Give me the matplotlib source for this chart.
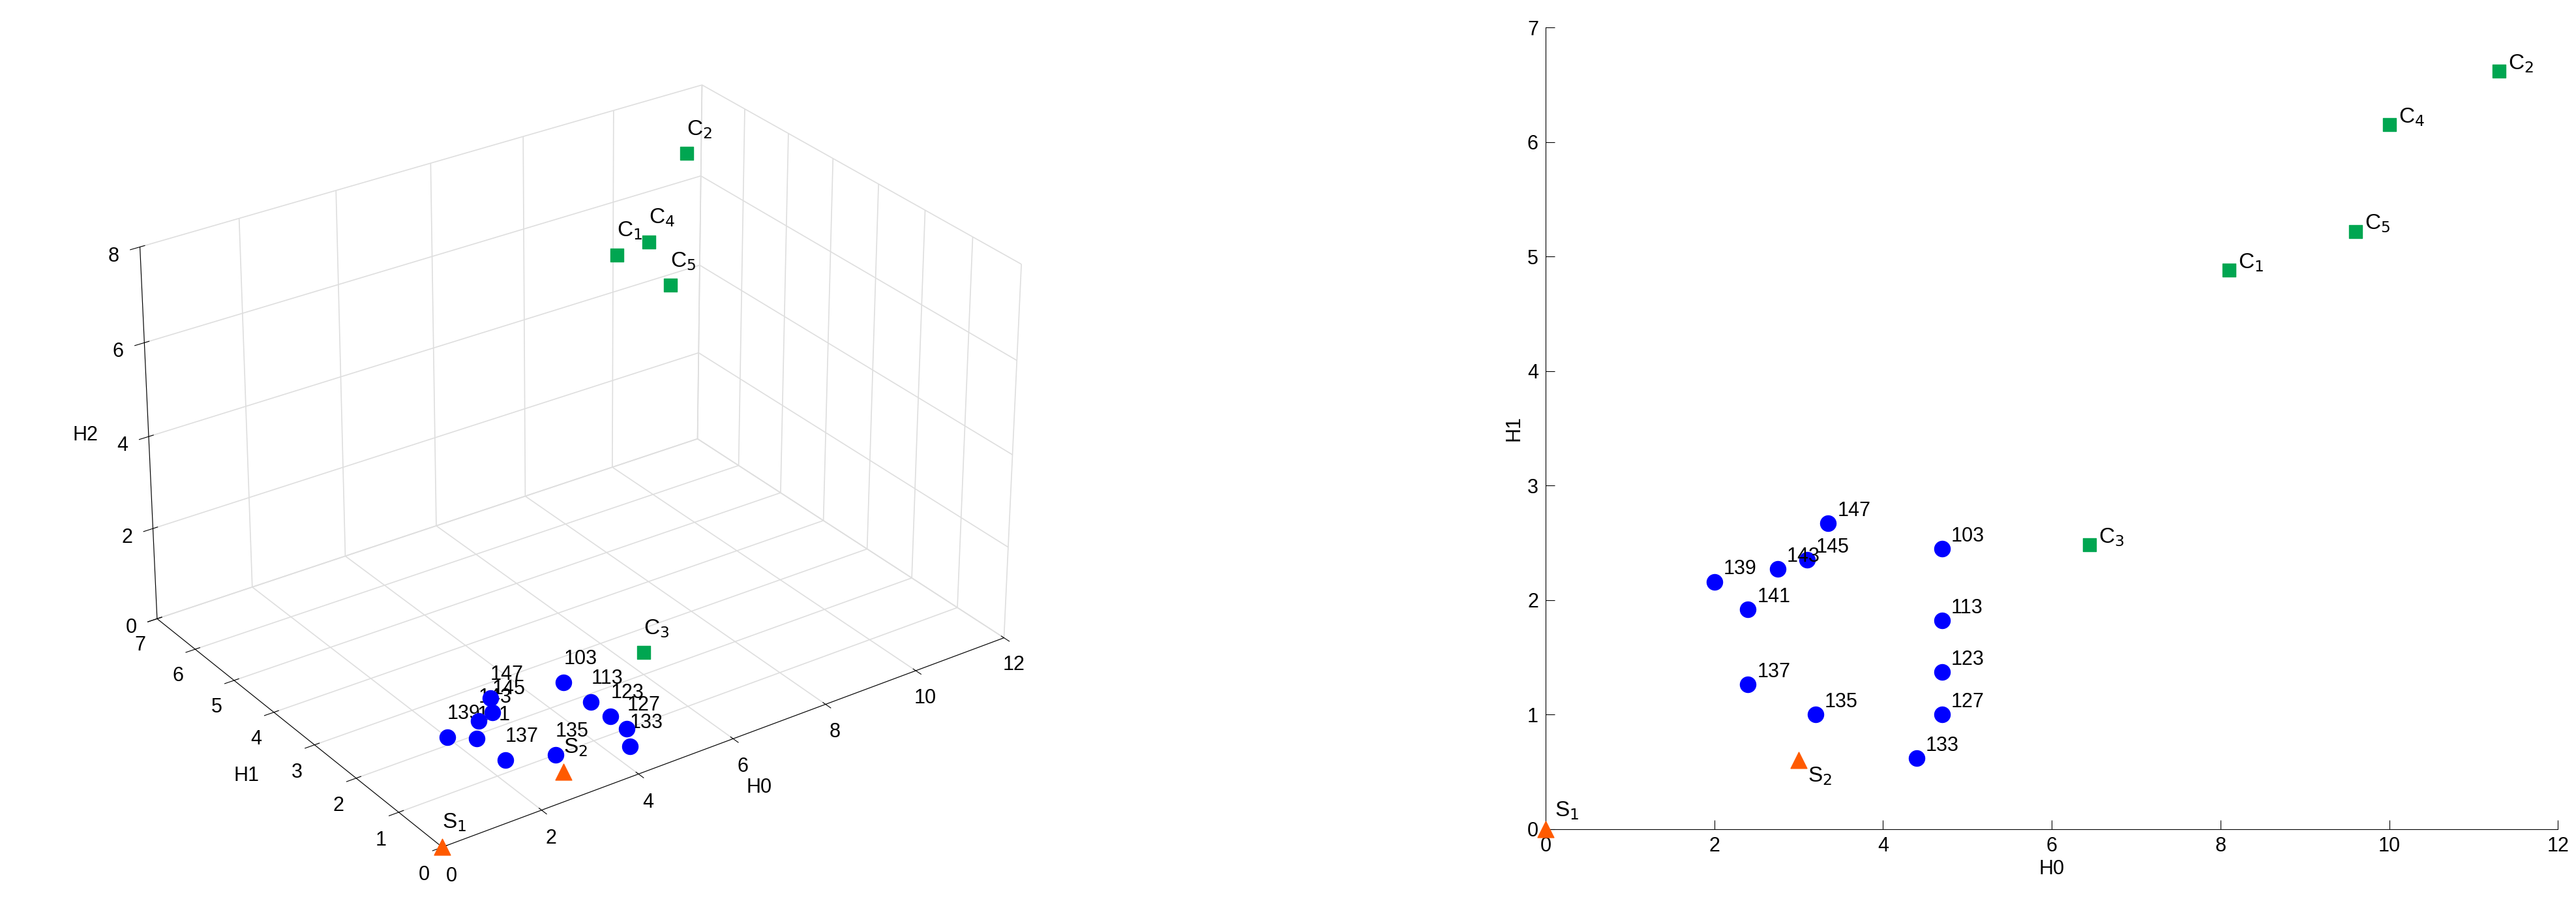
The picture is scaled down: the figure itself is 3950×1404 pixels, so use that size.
import numpy as np
import matplotlib
matplotlib.use("Agg")
import matplotlib.pyplot as plt

plt.rcParams["font.family"] = ["Liberation Sans", "DejaVu Sans"]
plt.rcParams["font.size"] = 22

# donnees
num_labels = ['103', '113', '123', '127', '133', '135', '137', '139', '141', '143', '145', '147']
num_h0 = [4.7, 4.7, 4.7, 4.7, 4.4, 3.2, 2.4, 2.0, 2.4, 2.75, 3.1, 3.35]
num_h1 = [2.45, 1.82, 1.37, 1.0, 0.62, 1.0, 1.26, 2.16, 1.92, 2.27, 2.35, 2.67]
num_h2 = [0, 0, 0, 0, 0, 0, 0, 0, 0, 0, 0, 0]

c_labels = ['C$_1$', 'C$_2$', 'C$_3$', 'C$_4$', 'C$_5$']
c_h0 = [8.1, 11.3, 6.45, 10.0, 9.6]
c_h1 = [4.88, 6.62, 2.48, 6.15, 5.22]
c_h2 = [6.6, 6.9, 0, 5.6, 5.3]

s_labels = ['S$_1$', 'S$_2$']
s_h0 = [0, 3.0]
s_h1 = [0, 0.6]
s_h2 = [0, 0]

blue = '#0000FF'
green = '#00A651'
orange = '#FF5A00'

fig = plt.figure(figsize=(39.5, 14.04), dpi=100)

# 3D
ax3 = fig.add_axes([0.0, 0.0, 0.44, 1.0], projection='3d')
ax3.view_init(elev=28, azim=-125)
ax3.scatter(num_h0, num_h1, num_h2, s=300, c=blue, depthshade=False)
ax3.scatter(c_h0, c_h1, c_h2, s=220, c=green, marker='s', depthshade=False)
ax3.scatter(s_h0, s_h1, s_h2, s=320, c=orange, marker='^', depthshade=False)
for i in range(len(num_labels)):
    ax3.text(num_h0[i], num_h1[i], num_h2[i] + 0.4, num_labels[i], fontsize=22)
for i in range(len(c_labels)):
    ax3.text(c_h0[i], c_h1[i], c_h2[i] + 0.4, c_labels[i], fontsize=24)
for i in range(len(s_labels)):
    ax3.text(s_h0[i], s_h1[i], s_h2[i] + 0.4, s_labels[i], fontsize=24)
ax3.set_xlim(0, 12)
ax3.set_ylim(0, 7)
ax3.set_zlim(0, 8)
ax3.set_xticks([0, 2, 4, 6, 8, 10, 12])
ax3.set_yticks(range(8))
ax3.set_zticks([0, 2, 4, 6, 8])
ax3.set_xlabel('H0', labelpad=22)
ax3.set_ylabel('H1', labelpad=22)
ax3.set_zlabel('H2', labelpad=18)
ax3.tick_params(pad=8)
ax3.set_box_aspect((1.3, 1.0, 0.8), zoom=1.02)
for a in (ax3.xaxis, ax3.yaxis, ax3.zaxis):
    a.set_pane_color((1, 1, 1, 0))
    a._axinfo['grid']['color'] = (0.87, 0.87, 0.87, 1)
    a._axinfo['grid']['linewidth'] = 1.2

# 2D
ax = fig.add_axes([0.6, 0.095, 0.393, 0.875])
ax.scatter(num_h0, num_h1, s=300, c=blue, zorder=3)
ax.scatter(c_h0, c_h1, s=200, c=green, marker='s', zorder=3)
ax.scatter(s_h0, s_h1, s=320, c=orange, marker='^', zorder=3, clip_on=False)
for i in range(len(num_labels)):
    ax.annotate(num_labels[i], (num_h0[i], num_h1[i]), xytext=(10, 8), textcoords='offset points', fontsize=22)
for i in range(len(c_labels)):
    ax.annotate(c_labels[i], (c_h0[i], c_h1[i]), xytext=(10, 2), textcoords='offset points', fontsize=24)
for i in range(len(s_labels)):
    ax.annotate(s_labels[i], (s_h0[i], s_h1[i]), xytext=(10, -24 if i else 14), textcoords='offset points', fontsize=24)
ax.set_xlim(0, 12)
ax.set_ylim(0, 7)
ax.set_xticks(range(0, 13, 2))
ax.set_yticks(range(8))
ax.set_xlabel('H0')
ax.set_ylabel('H1')
ax.tick_params(direction='in', length=10, pad=8)
for sp in ('top', 'right'):
    ax.spines[sp].set_visible(False)

plt.savefig('out.png', dpi=100)
